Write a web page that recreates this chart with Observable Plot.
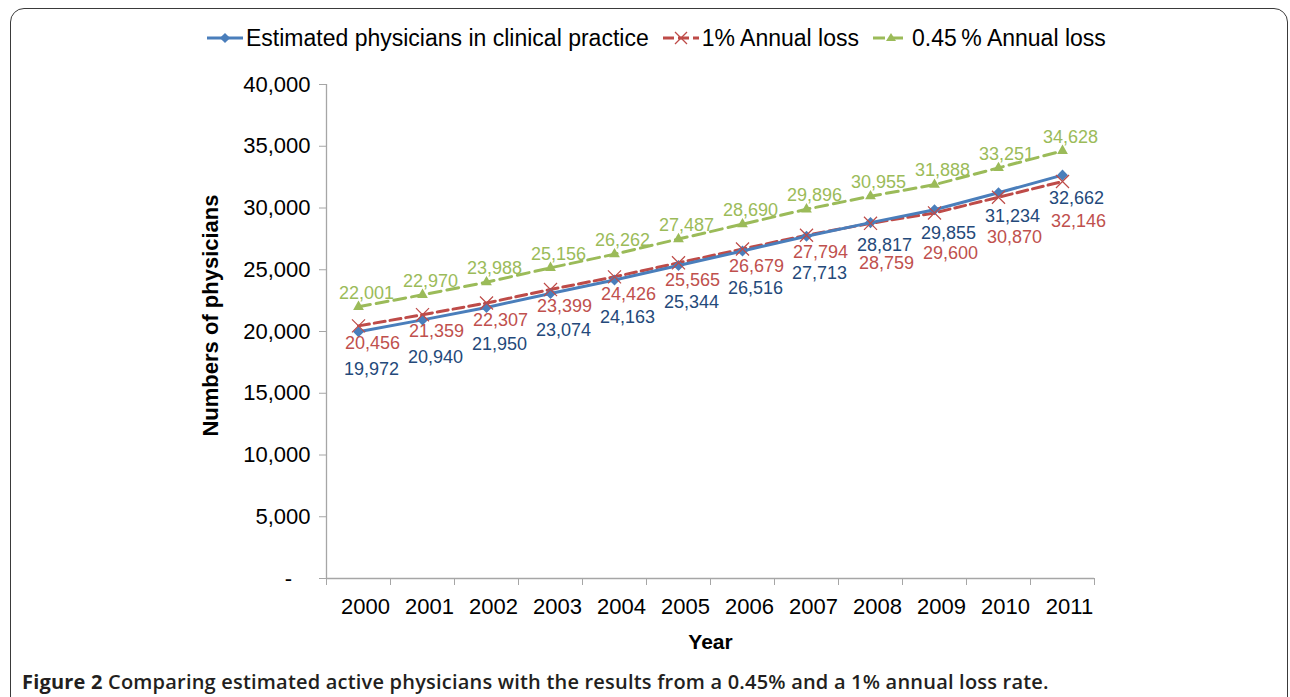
<!DOCTYPE html>
<html><head><meta charset="utf-8">
<script src="https://cdn.jsdelivr.net/npm/d3@7"></script>
<script src="https://cdn.jsdelivr.net/npm/@observablehq/plot@0.6"></script>
<style>
html,body{margin:0;padding:0;background:#fff;width:1290px;height:697px;overflow:hidden;position:relative;font-family:"Liberation Sans",Arial,sans-serif;}
#frame{position:absolute;left:10px;top:8px;width:1278px;height:800px;border:1.5px solid #3a3a3a;border-radius:14px;box-sizing:border-box;}
#legend{position:absolute;left:207px;top:22px;height:32px;display:flex;align-items:center;font-size:23px;white-space:nowrap;color:#000}
.item{display:flex;align-items:center;margin-right:14px}
.item svg{margin-right:3px;overflow:visible}
#chart{position:absolute;left:0;top:60px}
#caption{position:absolute;left:22px;top:668px;font-family:"Open Sans",sans-serif;font-weight:600;font-size:20px;letter-spacing:0.2px;color:#231f20;white-space:nowrap}
#caption b{font-weight:700}
</style></head>
<body>
<div id="frame"></div>
<div id="legend"></div>
<div id="chart"></div>
<div id="caption"><b>Figure 2</b> Comparing estimated active physicians with the results from a 0.45% and a 1% annual loss rate.</div>
<script>
const years = [2000, 2001, 2002, 2003, 2004, 2005, 2006, 2007, 2008, 2009, 2010, 2011];
const estimated = [19972, 20940, 21950, 23074, 24163, 25344, 26516, 27713, 28817, 29855, 31234, 32662];
const loss1 = [20456, 21359, 22307, 23399, 24426, 25565, 26679, 27794, 28759, 29600, 30870, 32146];
const loss045 = [22001, 22970, 23988, 25156, 26262, 27487, 28690, 29896, 30955, 31888, 33251, 34628];
const seriesNames = ["Estimated physicians in clinical practice", "1% Annual loss", "0.45\u2009% Annual loss"];
const yTicks = [0, 5000, 10000, 15000, 20000, 25000, 30000, 35000, 40000];
const xAxisTitle = "Year";
const yAxisTitle = "Numbers of physicians";

const BLUE = "#4A7EBB", RED = "#BE4B48", GREEN = "#9BBB59";
const BLUE_LBL = "#24497A", RED_LBL = "#C0504D", GREEN_LBL = "#9BBB59";

const rows = years.map((year, i) => ({year, est: estimated[i], l1: loss1[i], l045: loss045[i]}));
const boundaries = d3.range(years[0] - 0.5, years[years.length - 1] + 1, 1);
const fmt = d3.format(",");

// legend
const swatch = (color, dash, marker) =>
  `<svg width="36" height="14" viewBox="0 0 36 14"><line x1="0" y1="7" x2="36" y2="7" stroke="${color}" stroke-width="3" ${dash ? `stroke-dasharray="${dash}"` : ""}/>${marker}</svg>`;
const markers = [
  `<rect x="-3.6" y="-3.6" width="7.2" height="7.2" fill="${BLUE}" transform="translate(18,7) rotate(45)"/>`,
  `<path d="M12,1L24,13M24,1L12,13" stroke="${RED}" stroke-width="1.3" fill="none"/>`,
  `<path d="M18,2L23,10L13,10Z" fill="${GREEN}"/>`
];
const legend = document.getElementById("legend");
[[BLUE, null], [RED, "11,4"], [GREEN, "12,6"]].forEach(([c, d], i) => {
  const it = document.createElement("div");
  it.className = "item";
  it.innerHTML = swatch(c, d, markers[i]) + `<span>${seriesNames[i]}</span>`;
  legend.appendChild(it);
});

const lowerBlue = d => d.est < d.l1;

const chart = Plot.plot({
  width: 1290,
  height: 605,
  marginTop: 24,
  marginBottom: 87,
  marginLeft: 326,
  marginRight: 196,
  style: {fontFamily: "'Liberation Sans', Arial, sans-serif", fontSize: "22px", color: "#000", background: "transparent", overflow: "visible"},
  x: {type: "linear", domain: [years[0] - 0.5, years[years.length - 1] + 0.5]},
  y: {domain: [0, 40000]},
  marks: [
    Plot.ruleX([years[0] - 0.5], {y1: 0, y2: 40000, stroke: "#a6a6a6", strokeWidth: 1.3}),
    Plot.ruleY([0], {x1: years[0] - 0.5, x2: years[years.length - 1] + 0.5, stroke: "#a6a6a6", strokeWidth: 1.3}),
    Plot.axisY(yTicks, {tickSize: 7, tickPadding: 9, stroke: "#a6a6a6", fill: "#000", fontSize: 22,
      tickFormat: d => d === 0 ? "-\u00a0\u00a0\u00a0" : fmt(d), label: null}),
    Plot.axisX(boundaries, {tickSize: 7, stroke: "#a6a6a6", tickFormat: () => "", label: null}),
    Plot.axisX(years, {tickSize: 0, tickPadding: 20, dx: 7, fill: "#000", fontSize: 22, tickFormat: d => String(d), label: null}),
    Plot.line(rows, {x: "year", y: "l045", stroke: GREEN, strokeWidth: 3, strokeDasharray: "12,6"}),
    Plot.line(rows, {x: "year", y: "l1", stroke: RED, strokeWidth: 3, strokeDasharray: "11,5"}),
    Plot.line(rows, {x: "year", y: "est", stroke: BLUE, strokeWidth: 3}),
    Plot.dot(rows, {x: "year", y: "l045", symbol: "triangle", r: 4, fill: GREEN}),
    Plot.dot(rows, {x: "year", y: "est", symbol: "square", r: 4.4, rotate: 45, fill: BLUE}),
    Plot.dot(rows, {x: "year", y: "l1", symbol: "times", r: 6, stroke: RED, strokeWidth: 1.2}),
    // labels
    Plot.text(rows, {x: "year", y: "l045", text: d => fmt(d.l045), dx: 8, dy: -14, fill: GREEN_LBL, fontSize: 18}),
    Plot.text(rows.filter(lowerBlue), {x: "year", y: "est", text: d => fmt(d.est), dx: 13, dy: 37, fill: BLUE_LBL, fontSize: 18}),
    Plot.text(rows.filter(d => !lowerBlue(d)), {x: "year", y: "est", text: d => fmt(d.est), dx: 14, dy: 23, fill: BLUE_LBL, fontSize: 18}),
    Plot.text(rows.filter(lowerBlue), {x: "year", y: "l1", text: d => fmt(d.l1), dx: 14, dy: 17, fill: RED_LBL, fontSize: 18}),
    Plot.text(rows.filter(d => !lowerBlue(d)), {x: "year", y: "l1", text: d => fmt(d.l1), dx: 16, dy: 40, fill: RED_LBL, fontSize: 18}),
    // axis titles
    Plot.text([yAxisTitle], {frameAnchor: "left", rotate: -90, dx: -116, dy: -16, textAnchor: "middle", lineAnchor: "middle", fontWeight: "bold", fontSize: 22}),
    Plot.text([xAxisTitle], {frameAnchor: "bottom", dy: 64, textAnchor: "middle", lineAnchor: "middle", fontWeight: "bold", fontSize: 21})
  ]
});
document.getElementById("chart").appendChild(chart);
</script>
</body></html>
